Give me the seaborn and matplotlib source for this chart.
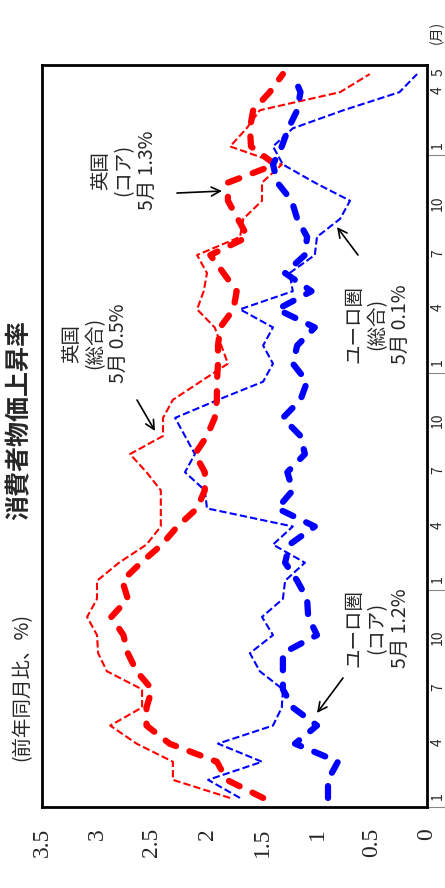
import numpy as np
import pandas as pd
import matplotlib
matplotlib.use("Agg")
import matplotlib.pyplot as plt
import seaborn as sns

# month index 0 = Jan of first year ... 40 = May of fourth year
months = list(range(41))
month_labels = ["1", "4", "7", "10", "1", "4", "7", "10", "1", "4", "7", "10", "1", "4", "5"]
label_pos = [0, 3, 6, 9, 12, 15, 18, 21, 24, 27, 30, 33, 36, 39, 40]

uk_all = [1.79, 2.31, 2.31, 2.64, 2.88, 2.59, 2.59, 2.91, 2.99, 3.0,
          3.09, 3.0, 3.0, 2.8, 2.55, 2.42, 2.42, 2.42, 2.55, 2.70,
          2.4, 2.4, 2.31, 2.06, 1.81, 1.87, 1.93, 2.09, 2.03, 2.0,
          2.09, 1.70, 1.67, 1.5, 1.5, 1.32, 1.79, 1.64, 1.52, 0.79, 0.52]
uk_core = [1.49, 1.82, 1.91, 2.34, 2.55, 2.55, 2.5, 2.64, 2.72, 2.76,
           2.87, 2.72, 2.77, 2.6, 2.41, 2.27, 2.09, 2.02, 2.02, 2.11,
           2.0, 1.93, 1.91, 1.91, 1.9, 1.9, 1.88, 1.76, 1.73, 1.85,
           1.97, 1.63, 1.72, 1.81, 1.81, 1.38, 1.6, 1.61, 1.58, 1.43, 1.31]
ez_all = [1.7, 1.99, 1.5, 1.9, 1.4, 1.32, 1.31, 1.52, 1.61, 1.4,
          1.5, 1.31, 1.29, 1.11, 1.4, 1.22, 2.0, 2.02, 2.2, 2.11,
          2.2, 2.29, 1.9, 1.49, 1.4, 1.49, 1.4, 1.7, 1.22, 1.25,
          1.02, 1.0, 0.79, 0.7, 1.02, 1.31, 1.4, 1.22, 0.76, 0.25, 0.09]
ez_core = [0.9, 0.9, 0.81, 1.2, 1.0, 1.22, 1.31, 1.31, 1.31, 1.0,
           1.08, 1.09, 1.18, 1.29, 1.25, 1.02, 1.36, 1.22, 1.27, 1.11,
           1.15, 1.31, 1.15, 1.09, 1.22, 1.18, 1.02, 1.36, 1.05, 1.29,
           1.11, 1.09, 1.18, 1.23, 1.36, 1.4, 1.32, 1.26, 1.18, 1.15, 1.22]

df = pd.DataFrame({"month": months, "uk_all": uk_all, "uk_core": uk_core,
                   "ez_all": ez_all, "ez_core": ez_core})

sns.set_style("white")
jp = ["Noto Sans CJK JP", "DejaVu Sans"]
plt.rcParams["font.family"] = jp

fig = plt.figure(figsize=(4.45, 8.88), dpi=100)
ax = fig.add_axes([42 / 445, 81 / 888, 385 / 445, 742 / 888])

thin = dict(lw=1.5, dashes=(3.5, 1.5))
thick = dict(lw=4.5, dashes=(1.9, 2.3), dash_capstyle="round")
sns.lineplot(data=df, x="uk_all", y="month", orient="y", color="#ff0000", ax=ax, **thin)
sns.lineplot(data=df, x="ez_all", y="month", orient="y", color="#0000ff", ax=ax, **thin)
sns.lineplot(data=df, x="uk_core", y="month", orient="y", color="#ff0000", ax=ax, **thick)
sns.lineplot(data=df, x="ez_core", y="month", orient="y", color="#0000ff", ax=ax, **thick)

ax.set_xlim(3.5, 0)
ax.set_ylim(-0.5, 40.5)
ax.set_xlabel("")
ax.set_ylabel("")

for s in ax.spines.values():
    s.set_linewidth(2)
    s.set_color("black")

# value axis (bottom of the rotated chart)
vt = [0, 0.5, 1, 1.5, 2, 2.5, 3, 3.5]
ax.set_xticks(vt)
ax.set_xticklabels(["0", "0.5", "1", "1.5", "2", "2.5", "3", "3.5"],
                   rotation=90, fontsize=17, family="Liberation Serif")
ax.tick_params(axis="x", direction="in", length=5, width=0.8, color="#777777", pad=15)

# time axis on the right side
ax.yaxis.tick_right()
ax.set_yticks([-0.5, 11.5, 23.5, 35.5])
ax.set_yticklabels([])
ax.set_yticks(label_pos, minor=True)
ax.set_yticklabels(month_labels, minor=True, rotation=90, fontsize=10)
ax.tick_params(axis="y", which="major", direction="out", length=25, width=0.8, color="#888888")
ax.tick_params(axis="y", which="minor", length=0, pad=3)

def px(xp, yp):
    return (427 - xp) / 110, (798 - yp) / 18.1

# label lines, text centre (pixels), arrow tail, arrow tip
notes = [(["英国", "(コア)", "5月 1.3%"], (124, 170), (177, 193), (222, 191)),
         (["英国", "(総合)", "5月 0.5%"], (95, 343), (137, 400), (155, 431)),
         (["ユーロ圏", "(総合)", "5月 0.1%"], (377, 324), (358, 255), (337, 227)),
         (["ユーロ圏", "(コア)", "5月 1.2%"], (377, 628), (343, 678), (317, 713))]
for lines, c, tail, tip in notes:
    for k, line in enumerate(lines):
        ax.text(*px(c[0] + (k - 1) * 23, c[1]), line, rotation=90,
                ha="center", va="center", fontsize=14)
    ax.annotate("", xy=px(*tip), xytext=px(*tail),
                arrowprops=dict(arrowstyle="->", lw=1.2, color="black",
                                shrinkA=0, shrinkB=0, mutation_scale=16))

fig.text(19 / 445, 1 - 420 / 888, "消費者物価上昇率", rotation=90, ha="center",
         va="center", fontsize=18, fontweight="bold")
fig.text(22 / 445, 1 - 687 / 888, "(前年同月比、%)", rotation=90, ha="center",
         va="center", fontsize=14)
fig.text(437 / 445, 1 - 32 / 888, "(月)", rotation=90, ha="center",
         va="center", fontsize=10)

fig.savefig("out.png", dpi=100)
